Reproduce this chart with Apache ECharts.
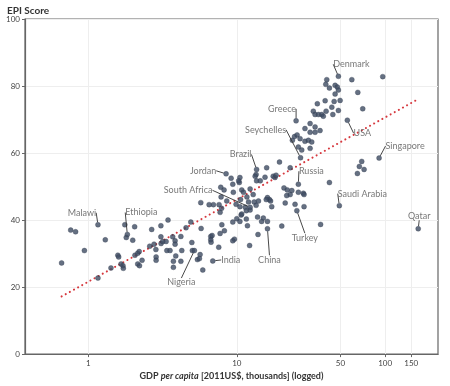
<!DOCTYPE html>
<html>
<head>
<meta charset="utf-8">
<script src="https://cdn.jsdelivr.net/npm/echarts@6/dist/echarts.min.js"></script>
<style>html,body{margin:0;padding:0;background:#fff}#c{width:450px;height:386px}</style>
</head>
<body>
<div id="c"></div>
<script>
// GDP per capita (2011US$, thousands) and EPI score of unlabelled countries
const otherGdp = [0.66,0.76,0.82,0.94,1.16,1.30,1.42,1.58,1.60,1.66,1.71,1.72,1.76,1.80,1.99,2.05,2.06,2.15,2.20,2.15,2.21,2.30,2.59,2.77,2.67,2.85,2.86,2.86,
3.08,3.08,3.09,3.17,3.34,3.38,3.55,3.44,3.70,3.84,3.84,3.88,3.74,3.74,4.20,4.26,4.55,4.90,4.98,5.02,5.43,4.20,5.75,5.72,5.90,6.51,6.96,7.60,7.72,7.9,
6.68,6.68,6.71,6.82,7.72,7.56,7.93,8.25,5.66,5.60,9.16,9.40,10.4,7.80,8.21,9.48,7.84,8.56,9.40,10.0,10.7,9.64,9.40,9.89,10.6,10.8,11.1,11.7,12.0,
13.1,13.5,14.0,10.5,10.8,11.4,11.6,12.3,11.6,11.8,13.8,13.9,12.2,12.3,12.9,13.5,13.6,13.3,10.5,10.3,10.5,15.9,19.4,22.9,17.6,18.1,18.4,15.5,14.4,
20.8,21.9,23.5,26.0,28.1,28.4,22.9,21.7,16.1,16.6,16.9,15.8,21.2,24.7,28.4,17.2,15.1,16.1,14.7,20.1,36.7,42.1,
24.5,25.5,26.7,28.8,31.2,33.7,36.4,28.8,30.4,32.0,26.0,27.4,31.2,23.7,31.2,33.7,32.8,33.7,35.5,37.4,38.3,40.0,34.9,39.4,45.3,49.7,43.7,48.4,44.4,70.6,
40.4,39.8,42.1,46.0,47.6,46.0,48.4,59.6,65.4,96.3,69.5,67.0,72.1,65.0];
const otherEpi = [27.2,37.0,36.5,30.9,22.7,34.1,25.7,29.5,29.0,26.9,26.4,25.6,38.6,34.8,34.0,38.0,29.5,30.1,30.6,26.9,26.4,28.0,32.2,32.8,37.2,31.2,29.0,28.0,
38.3,35.0,33.0,33.6,33.6,30.9,30.9,40.0,35.0,33.8,32.8,29.3,27.7,25.9,27.7,30.9,37.7,39.4,33.3,30.9,28.2,35.1,37.5,45.2,25.1,44.6,44.6,44.6,42.3,43.5,
35.1,34.1,33.4,35.4,36.0,31.9,38.6,36.8,29.7,28.5,52.5,50.7,51.2,49.8,49.0,48.3,46.9,45.7,39.4,40.4,41.5,34.3,33.8,44.7,46.1,49.0,48.3,46.9,45.4,
45.4,44.4,45.7,44.0,41.8,43.8,42.8,43.0,40.3,38.3,40.9,35.7,32.4,49.3,47.6,53.6,51.7,53.1,52.7,51.7,39.6,55.6,57.3,55.6,53.1,52.7,53.4,52.8,51.7,
49.6,49.0,48.8,48.3,48.0,47.6,47.6,47.3,46.7,46.1,45.7,46.1,45.1,44.7,44.0,44.0,40.6,39.6,39.6,38.2,38.7,51.2,
64.9,65.4,64.3,67.3,66.2,66.2,66.7,63.5,63.8,63.3,61.8,60.9,61.4,63.8,68.8,67.8,72.5,71.5,71.5,71.5,71.0,72.5,74.7,75.6,75.4,75.7,73.7,72.7,71.5,73.2,
81.9,80.5,79.4,80.2,79.7,77.6,78.8,81.9,78.1,82.8,57.5,56.0,55.1,53.9];

// labelled countries
const countryNames = ['Malawi','Ethiopia','Nigeria','India','China','South Africa','Jordan','Brazil','Russia','Turkey','Saudi Arabia','Seychelles','Greece','USA','Denmark','Singapore','Qatar'];
const countryGdp = [1.16,1.83,5.18,6.89,16.1,12.3,8.47,13.6,26.0,25.4,49.1,26.9,25.1,55.6,48.4,91.0,167];
const countryEpi = [38.6,35.7,30.9,27.8,37.4,43.8,53.8,55.1,50.7,42.8,44.3,58.6,69.6,69.8,82.9,58.5,37.4];

// fitted trend line end points
const trendGdp = [0.66, 167];
const trendEpi = [17.2, 76.1];

// x axis tick labels (thousands US$)
const xTicks = [1, 10, 50, 100, 150];
const xRange = [0.374, 227];
const yTicks = [0, 20, 40, 60, 80, 100];

// label placement (offset of label centre from the point, px)
const labelOffsets = {
  'Malawi':[-16,-12],'Ethiopia':[14,-22],'Nigeria':[-13,32],'India':[18,-1],'China':[2,31],
  'South Africa':[-62,-17],'Jordan':[-23,-3],'Brazil':[-16,-15],'Russia':[13,-13],'Turkey':[8,27],
  'Saudi Arabia':[23,-12],'Seychelles':[-35,-28],'Greece':[-14,-12],'USA':[15,13],'Denmark':[13,-12],
  'Singapore':[26,-12],'Qatar':[1,-13]
};

const lg = v => Math.log10(v);
const FONT = 'Lato';
const ptColor = '#3f4c63';

const otherData = otherGdp.map((g, i) => [lg(g), otherEpi[i]]);
const countryData = countryNames.map((n, i) => ({name: n, value: [lg(countryGdp[i]), countryEpi[i]]}));
const trendData = trendGdp.map((g, i) => [lg(g), trendEpi[i]]);
const xTickVals = xTicks.map(lg);

const chart = echarts.init(document.getElementById('c'), null, {renderer: 'canvas'});
chart.setOption({
  animation: false,
  backgroundColor: '#fff',
  title: {
    text: 'EPI Score', left: 2, top: 1,
    textStyle: {fontFamily: FONT, fontSize: 10, fontWeight: 'bold', color: '#333'}
  },
  grid: {left: 25, right: 12, top: 19, bottom: 21, show: true, borderColor: '#666', borderWidth: 1.2},
  xAxis: {
    type: 'value', min: lg(xRange[0]), max: lg(xRange[1]),
    axisLine: {show: true, onZero: false, lineStyle: {color: '#666', width: 1.2}},
    axisTick: {show: true, length: 3, customValues: xTickVals, lineStyle: {color: '#666'}},
    axisLabel: {customValues: xTickVals, fontFamily: FONT, fontSize: 8, color: '#444', margin: 5,
      formatter: v => String(Math.round(Math.pow(10, v)))},
    splitLine: {show: true, lineStyle: {color: '#eee', width: 1}},
    name: '{b|GDP }{i|per capita}{b| [2011US$, thousands] (logged)}',
    nameLocation: 'middle', nameGap: 13,
    nameTextStyle: {rich: {
      b: {fontFamily: FONT, fontSize: 9, fontWeight: 'bold', color: '#333'},
      i: {fontFamily: FONT, fontSize: 9, fontWeight: 'bold', fontStyle: 'italic', color: '#333'}
    }}
  },
  yAxis: {
    type: 'value', min: yTicks[0], max: yTicks[yTicks.length - 1], interval: 20,
    axisLine: {show: true, onZero: false, lineStyle: {color: '#666', width: 1.2}},
    axisTick: {show: true, length: 3, lineStyle: {color: '#666'}},
    axisLabel: {fontFamily: FONT, fontSize: 8, color: '#444', margin: 5},
    splitLine: {show: true, lineStyle: {color: '#eee', width: 1}}
  },
  series: [
    {
      type: 'line', data: trendData, symbol: 'none', z: 1,
      lineStyle: {color: '#d6373d', width: 2, type: [0.1, 4.6], cap: 'round'}
    },
    {
      type: 'scatter', data: otherData, symbolSize: 5, z: 3,
      itemStyle: {color: ptColor, borderColor: '#2f3a4d', borderWidth: 0.4}
    },
    {
      type: 'scatter', data: countryData, symbolSize: 5, z: 4,
      itemStyle: {color: ptColor, borderColor: '#2f3a4d', borderWidth: 0.4},
      label: {show: true, position: 'inside', formatter: p => p.name,
        fontFamily: FONT, fontSize: 9, color: '#555', align: 'center', verticalAlign: 'middle'},
      labelLine: {show: true, lineStyle: {color: '#333', width: 0.9}},
      labelLayout: p => {
        const o = labelOffsets[countryNames[p.dataIndex]];
        return {dx: o[0], dy: o[1]};
      }
    }
  ]
});
</script>
</body>
</html>
